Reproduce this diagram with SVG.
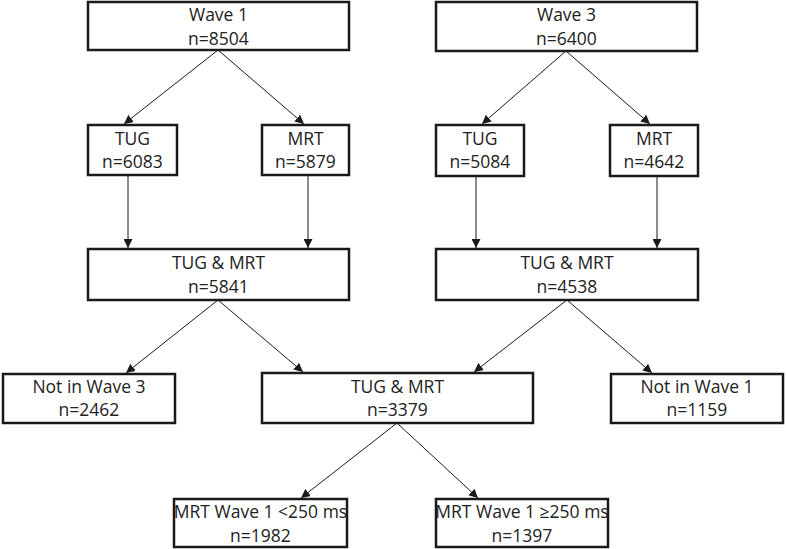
<svg xmlns="http://www.w3.org/2000/svg" width="786" height="549" viewBox="0 0 786 549">
<style>
.box{fill:#fff;stroke:#1a1a1a;stroke-width:2.5}
.lbl{font-family:"Open Sans","Liberation Sans",sans-serif;font-size:17.5px;fill:#222;text-anchor:middle}
.edge{stroke:#1a1a1a;stroke-width:1;fill:none;marker-end:url(#ah)}
</style>
<defs>
<marker id="ah" markerUnits="userSpaceOnUse" markerWidth="9" markerHeight="9" refX="9" refY="4.5" orient="auto" viewBox="0 0 9 9">
<path d="M0,0 L9,4.5 L0,9 z" fill="#1a1a1a"/>
</marker>
</defs>
<rect width="786" height="549" fill="#fff"/>
<g id="connectors">
<line class="edge" x1="218" y1="50" x2="124" y2="124"/>
<line class="edge" x1="218" y1="50" x2="304" y2="124"/>
<line class="edge" x1="128" y1="175" x2="128" y2="248"/>
<line class="edge" x1="308" y1="175" x2="308" y2="248"/>
<line class="edge" x1="566" y1="51" x2="482" y2="124"/>
<line class="edge" x1="566" y1="51" x2="650" y2="124"/>
<line class="edge" x1="476" y1="176" x2="476" y2="248"/>
<line class="edge" x1="657" y1="176" x2="657" y2="248"/>
<line class="edge" x1="218" y1="300" x2="126" y2="373"/>
<line class="edge" x1="218" y1="300" x2="303" y2="372"/>
<line class="edge" x1="567" y1="300" x2="474" y2="372"/>
<line class="edge" x1="567" y1="300" x2="652" y2="373"/>
<line class="edge" x1="397" y1="423" x2="301" y2="498"/>
<line class="edge" x1="397" y1="423" x2="478" y2="498"/>
</g>
<g id="wave1"><rect class="box" x="88" y="2" width="261" height="48"/><text class="lbl" x="218.5" y="21">Wave 1</text><text class="lbl" x="218.5" y="45">n=8504</text></g>
<g id="wave3"><rect class="box" x="436" y="2" width="261" height="49"/><text class="lbl" x="566.5" y="21">Wave 3</text><text class="lbl" x="566.5" y="45">n=6400</text></g>
<g id="tug1"><rect class="box" x="88" y="125" width="89" height="50"/><text class="lbl" x="132.5" y="145">TUG</text><text class="lbl" x="132.5" y="168">n=6083</text></g>
<g id="mrt1"><rect class="box" x="262" y="125" width="87" height="50"/><text class="lbl" x="305.5" y="145">MRT</text><text class="lbl" x="305.5" y="168">n=5879</text></g>
<g id="tug3"><rect class="box" x="436" y="125" width="88" height="51"/><text class="lbl" x="480" y="145">TUG</text><text class="lbl" x="480" y="168">n=5084</text></g>
<g id="mrt3"><rect class="box" x="610" y="125" width="88" height="51"/><text class="lbl" x="654" y="145">MRT</text><text class="lbl" x="654" y="168">n=4642</text></g>
<g id="both1"><rect class="box" x="88" y="249" width="261" height="51"/><text class="lbl" x="218.5" y="269">TUG &amp; MRT</text><text class="lbl" x="218.5" y="293">n=5841</text></g>
<g id="both3"><rect class="box" x="436" y="249" width="262" height="51"/><text class="lbl" x="567" y="269">TUG &amp; MRT</text><text class="lbl" x="567" y="293">n=4538</text></g>
<g id="notw3"><rect class="box" x="3" y="374" width="172" height="49"/><text class="lbl" x="89" y="393">Not in Wave 3</text><text class="lbl" x="89" y="416">n=2462</text></g>
<g id="bothall"><rect class="box" x="262" y="373" width="271" height="50"/><text class="lbl" x="397.5" y="393">TUG &amp; MRT</text><text class="lbl" x="397.5" y="416">n=3379</text></g>
<g id="notw1"><rect class="box" x="611" y="374" width="172" height="49"/><text class="lbl" x="697" y="393">Not in Wave 1</text><text class="lbl" x="697" y="416">n=1159</text></g>
<g id="lt250"><rect class="box" x="174" y="499" width="173" height="48"/><text class="lbl" x="260.5" y="518">MRT Wave 1 &lt;250 ms</text><text class="lbl" x="260.5" y="542">n=1982</text></g>
<g id="ge250"><rect class="box" x="436" y="499" width="172" height="48"/><text class="lbl" x="522" y="518">MRT Wave 1 ≥250 ms</text><text class="lbl" x="522" y="542">n=1397</text></g>
</svg>
